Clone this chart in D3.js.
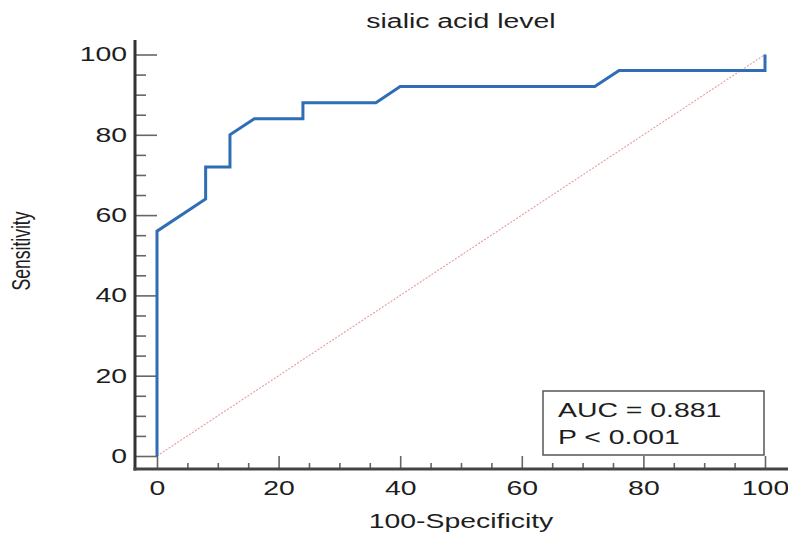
<!DOCTYPE html>
<html>
<head>
<meta charset="utf-8">
<script src="https://cdn.jsdelivr.net/npm/d3@7"></script>
<style>
  body { margin: 0; background: #fff; }
  text { font-family: "Liberation Sans", Arial, sans-serif; fill: #1e1e1e; }
</style>
</head>
<body>
<div id="chart"></div>
<script>
// ROC curve points (100-Specificity, Sensitivity)
const specificity = [0, 0, 8, 8, 12, 12, 16, 24, 24, 36, 40, 72, 76, 100, 100];
const sensitivity = [0, 56, 64, 72, 72, 80, 84, 84, 88, 88, 92, 92, 96, 96, 100];
const majorTicks = [0, 20, 40, 60, 80, 100];
const minorTicks = d3.range(0, 101, 5).filter(d => d % 20 !== 0);
const legendLines = ["AUC = 0.881", "P < 0.001"];

const width = 788, height = 533;
const stretch = 1.42; // text in the picture is wide

const svg = d3.select("#chart").append("svg")
  .attr("width", width)
  .attr("height", height);

const x = d3.scaleLinear().domain([0, 100]).range([157, 765]);
const y = d3.scaleLinear().domain([0, 100]).range([456, 54.5]);

const axisX = 135;  // y axis line position
const axisY = 469;  // x axis line position

// diagonal reference line
svg.append("line")
  .attr("x1", x(0)).attr("y1", y(0))
  .attr("x2", x(100)).attr("y2", y(100))
  .attr("stroke", "#e89a9a")
  .attr("stroke-width", 1.1)
  .attr("stroke-dasharray", "2,1.5");

// y axis ticks
const yMajor = svg.append("g")
  .attr("transform", `translate(${axisX},0)`)
  .call(d3.axisLeft(y).tickValues(majorTicks).tickSizeInner(-22).tickSizeOuter(0).tickPadding(0));
const yMinor = svg.append("g")
  .attr("transform", `translate(${axisX},0)`)
  .call(d3.axisLeft(y).tickValues(minorTicks).tickSizeInner(-11).tickSizeOuter(0).tickFormat(""));

// x axis ticks
const xMajor = svg.append("g")
  .attr("transform", `translate(0,${axisY})`)
  .call(d3.axisBottom(x).tickValues(majorTicks).tickSizeInner(-13).tickSizeOuter(0).tickPadding(12));
const xMinor = svg.append("g")
  .attr("transform", `translate(0,${axisY})`)
  .call(d3.axisBottom(x).tickValues(minorTicks).tickSizeInner(-6).tickSizeOuter(0).tickFormat(""));

[yMajor, yMinor, xMajor, xMinor].forEach(g => {
  g.select(".domain").remove();
  g.selectAll(".tick line").attr("stroke", "#666").attr("stroke-width", 1.6);
});

yMajor.selectAll(".tick text")
  .attr("font-size", 20)
  .attr("x", 0)
  .attr("transform", `translate(-8,0) scale(${stretch},1)`)
  .style("fill", "#1e1e1e");
xMajor.selectAll(".tick text")
  .attr("font-size", 20)
  .attr("transform", `scale(${stretch},1)`)
  .style("fill", "#1e1e1e");

// axis lines
svg.append("line")
  .attr("x1", axisX).attr("y1", 40)
  .attr("x2", axisX).attr("y2", axisY + 1.5)
  .attr("stroke", "#333").attr("stroke-width", 3);
svg.append("line")
  .attr("x1", axisX - 1.5).attr("y1", axisY)
  .attr("x2", width).attr("y2", axisY)
  .attr("stroke", "#444").attr("stroke-width", 3);

// ROC curve
const rocData = specificity.map((d, i) => ({ fpr: d, tpr: sensitivity[i] }));
const line = d3.line()
  .x(d => x(d.fpr))
  .y(d => y(d.tpr));

svg.append("path")
  .datum(rocData)
  .attr("d", line)
  .attr("fill", "none")
  .attr("stroke", "#2f6db5")
  .attr("stroke-width", 3)
  .attr("stroke-linejoin", "miter");

// legend box
const legend = svg.append("g");
legend.append("rect")
  .attr("x", 543).attr("y", 391)
  .attr("width", 221).attr("height", 64)
  .attr("fill", "#fff")
  .attr("stroke", "#555")
  .attr("stroke-width", 1.5);
legend.selectAll("text")
  .data(legendLines)
  .join("text")
  .attr("font-size", 20)
  .attr("transform", (d, i) => `translate(558,${417 + i * 26.5}) scale(${stretch},1)`)
  .text(d => d);

// title
svg.append("text")
  .attr("font-size", 20)
  .attr("text-anchor", "middle")
  .attr("transform", `translate(${(x(0) + x(100)) / 2},28) scale(${stretch},1)`)
  .text("sialic acid level");

// x axis title
svg.append("text")
  .attr("font-size", 20)
  .attr("text-anchor", "middle")
  .attr("transform", `translate(${(x(0) + x(100)) / 2},528) scale(${stretch},1)`)
  .text("100-Specificity");

// y axis title (narrow)
svg.append("text")
  .attr("font-size", 18.5)
  .attr("text-anchor", "middle")
  .attr("transform", `translate(29.5,251) rotate(-90) scale(0.95,1.35)`)
  .text("Sensitivity");
</script>
</body>
</html>
